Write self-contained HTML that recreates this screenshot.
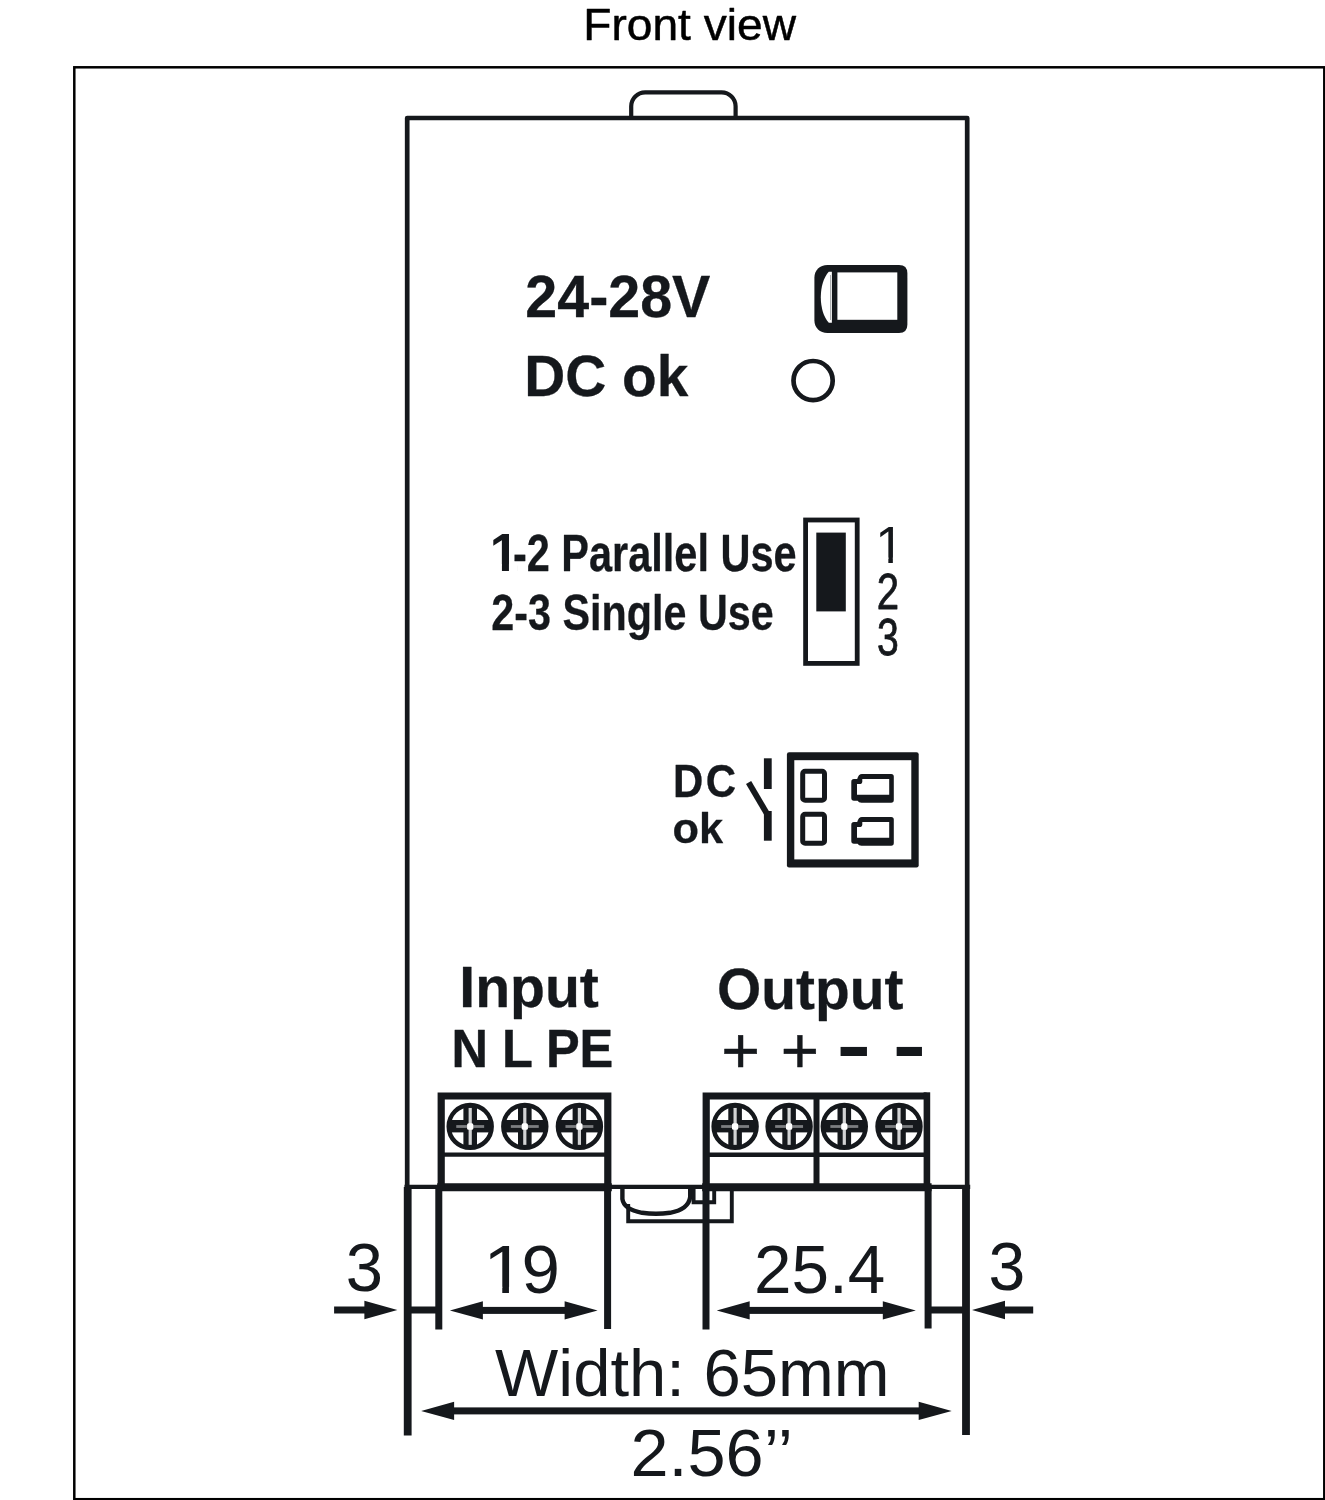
<!DOCTYPE html>
<html lang="en">
<head>
<meta charset="utf-8">
<title>Front view</title>
<style>
html,body{margin:0;padding:0;background:#fff;}
body{width:1325px;height:1500px;overflow:hidden;}
svg{display:block;font-family:"Liberation Sans",sans-serif;will-change:transform;}
</style>
</head>
<body>
<svg width="1325" height="1500" viewBox="0 0 1325 1500">
<rect x="0" y="0" width="1325" height="1500" fill="#fff"/>

<!-- title + frame -->
<text fill="#000" xml:space="preserve"><tspan x="583.28" y="39.98" font-size="44.51" font-weight="400" textLength="212.69" lengthAdjust="spacingAndGlyphs" stroke="#000" stroke-width="0.5" stroke-linejoin="round">Front view</tspan></text>
<rect x="74.3" y="67.3" width="1250" height="1431.9" fill="none" stroke="#000" stroke-width="2.5"/>
<defs><filter id="soft" x="0" y="0" width="1325" height="1500" filterUnits="userSpaceOnUse" color-interpolation-filters="sRGB"><feGaussianBlur stdDeviation="0.55"/></filter></defs>
<g filter="url(#soft)">
<!-- housing outline -->
<g fill="none" stroke="#15181c">
<path d="M 407.2 1187 V 118 H 967.2 V 1187" stroke-width="4.7" stroke-linejoin="round"/>
<path d="M 631.2 118 V 106.3 A 14 14 0 0 1 645.2 92.3 H 721.6 A 14 14 0 0 1 735.6 106.3 V 118" stroke-width="4.2"/>
<path d="M 404.5 1186.8 H 970.2" stroke-width="4.2"/>
<path d="M 437.2 1187.2 H 611.8 M 702.2 1187.2 H 931.6" stroke-width="8"/>
<path d="M 407.7 1187 V 1435.4 M 966 1187 V 1435" stroke-width="7.8"/>
<path d="M 438.8 1187 V 1329.4 M 607.6 1187 V 1329 M 706 1187 V 1329.4 M 928.1 1187 V 1328.4" stroke-width="7"/>
</g>
<!-- potentiometer -->
<path d="M 827.5 265 H 899 Q 907.4 265 907.4 273.4 V 324.6 Q 907.4 333 899 333 H 827.5 C 819.8 333 814.4 327.6 814.4 320.5 V 277.5 C 814.4 270.4 819.8 265 827.5 265 Z" fill="#15181c"/>
<rect x="837.4" y="272.4" width="59.9" height="47.4" fill="#fff"/>
<path d="M 831.9 271.8 V 322.8 H 828.8 C 823.6 317.2 820.8 307.5 820.8 297.3 C 820.8 287.1 823.6 277.4 828.8 271.8 Z" fill="#fff"/>
<path d="M 830.5 275 V 320" stroke="#a5a7a9" stroke-width="0.9" fill="none"/>
<!-- LED -->
<circle cx="813.1" cy="380.6" r="19.6" fill="none" stroke="#15181c" stroke-width="4.7"/>
<!-- labels -->
<text fill="#15181c" xml:space="preserve"><tspan x="525.30" y="317.43" font-size="59.03" font-weight="700" textLength="185.10" lengthAdjust="spacingAndGlyphs" stroke="#15181c" stroke-width="0.3" stroke-linejoin="round">24-28V</tspan></text>
<text fill="#15181c" xml:space="preserve"><tspan x="524.30" y="395.50" font-size="57.34" font-weight="700" textLength="163.95" lengthAdjust="spacingAndGlyphs" stroke="#15181c" stroke-width="0.3" stroke-linejoin="round">DC ok</tspan></text>
<text fill="#15181c" xml:space="preserve"><tspan x="489.75" y="570.70" font-size="53.34" font-weight="700" textLength="28.89" lengthAdjust="spacingAndGlyphs">1</tspan><tspan x="512.90" y="570.68" font-size="51.08" font-weight="700" textLength="283.65" lengthAdjust="spacingAndGlyphs" stroke="#15181c" stroke-width="0.3" stroke-linejoin="round">-2 Parallel Use</tspan></text><rect x="492.39" y="564.16" width="9.54" height="7.54" fill="#fff"/><rect x="508.95" y="564.16" width="8.88" height="7.54" fill="#fff"/>
<text fill="#15181c" xml:space="preserve"><tspan x="491.27" y="629.70" font-size="50.54" font-weight="700" textLength="282.43" lengthAdjust="spacingAndGlyphs" stroke="#15181c" stroke-width="0.3" stroke-linejoin="round">2-3 Single Use</tspan></text>
<text fill="#15181c" xml:space="preserve"><tspan x="875.19" y="562.50" font-size="52.62" font-weight="400" textLength="28.99" lengthAdjust="spacingAndGlyphs">1</tspan></text><rect x="878.52" y="557.47" width="9.82" height="6.03" fill="#fff"/><rect x="892.85" y="557.47" width="9.42" height="6.03" fill="#fff"/>
<text fill="#15181c" xml:space="preserve"><tspan x="876.75" y="608.52" font-size="49.66" font-weight="400" textLength="22.34" lengthAdjust="spacingAndGlyphs" stroke="#15181c" stroke-width="0.8" stroke-linejoin="round">2</tspan></text>
<text fill="#15181c" xml:space="preserve"><tspan x="877.12" y="655.05" font-size="51.39" font-weight="400" textLength="21.79" lengthAdjust="spacingAndGlyphs" stroke="#15181c" stroke-width="0.8" stroke-linejoin="round">3</tspan></text>
<!-- slide switch -->
<rect x="805.6" y="520" width="51.6" height="143.4" fill="#fff" stroke="#15181c" stroke-width="4.8"/>
<rect x="816.3" y="532.6" width="29.5" height="78.8" fill="#15181c"/>
<!-- DC ok relay contact -->
<text fill="#15181c" xml:space="preserve"><tspan x="673.03" y="797.32" font-size="45.49" font-weight="700" textLength="65.26" lengthAdjust="spacingAndGlyphs" letter-spacing="2.5" stroke="#15181c" stroke-width="0.3" stroke-linejoin="round">DC</tspan></text>
<text fill="#15181c" xml:space="preserve"><tspan x="672.53" y="843.27" font-size="43.08" font-weight="700" textLength="50.59" lengthAdjust="spacingAndGlyphs" stroke="#15181c" stroke-width="0.3" stroke-linejoin="round">ok</tspan></text>
<g fill="none" stroke="#15181c" stroke-width="7.8">
<path d="M 767.8 758.3 V 789"/>
<path d="M 767.8 811 V 840.7"/>
<path d="M 748.6 782.6 L 768.6 816.5" stroke-width="6"/>
</g>
<rect x="786.9" y="752.3" width="131.8" height="115.1" rx="2.2" fill="#15181c"/>
<rect x="794.3" y="760.2" width="117" height="99.2" fill="#fff"/>
<rect x="802.70" y="771.30" width="21.80" height="29.00" rx="2.4" fill="#fff" stroke="#15181c" stroke-width="5.0"/>
<rect x="802.70" y="814.30" width="21.80" height="29.00" rx="2.4" fill="#fff" stroke="#15181c" stroke-width="5.0"/>
<path d="M 862 773.9 H 891.2 Q 893.8 773.9 893.8 776.50 V 800.10 Q 893.8 802.70 891.2 802.70 H 861.5 Q 858.6 802.70 857.6 800.80 H 854 Q 851.3 800.80 851.3 798.10 V 781.90 Q 851.3 779.10 854 779.10 H 857.2 Q 858.4 773.9 862 773.9 Z" fill="#15181c"/><path d="M 862.3 779.00 H 889.2 V 794.80 H 857 V 784.10 H 860.6 Q 862.3 783.50 862.3 781.70 Z" fill="#fff"/>
<path d="M 862 816.9 H 891.2 Q 893.8 816.9 893.8 819.50 V 843.10 Q 893.8 845.70 891.2 845.70 H 861.5 Q 858.6 845.70 857.6 843.80 H 854 Q 851.3 843.80 851.3 841.10 V 824.90 Q 851.3 822.10 854 822.10 H 857.2 Q 858.4 816.9 862 816.9 Z" fill="#15181c"/><path d="M 862.3 822.00 H 889.2 V 837.80 H 857 V 827.10 H 860.6 Q 862.3 826.50 862.3 824.70 Z" fill="#fff"/>
<!-- Input / Output -->
<text fill="#15181c" xml:space="preserve"><tspan x="459.30" y="1007.25" font-size="57.72" font-weight="700" textLength="139.60" lengthAdjust="spacingAndGlyphs" stroke="#15181c" stroke-width="0.3" stroke-linejoin="round">Input</tspan></text>
<text fill="#15181c" xml:space="preserve"><tspan x="451.38" y="1067.45" font-size="53.19" font-weight="700" textLength="161.90" lengthAdjust="spacingAndGlyphs" stroke="#15181c" stroke-width="0.4" stroke-linejoin="round">N L PE</tspan></text>
<text fill="#15181c" xml:space="preserve"><tspan x="717.12" y="1009.33" font-size="57.73" font-weight="700" textLength="186.32" lengthAdjust="spacingAndGlyphs" stroke="#15181c" stroke-width="0.3" stroke-linejoin="round">Output</tspan></text>
<text fill="#15181c" xml:space="preserve"><tspan x="721.27" y="1073.20" font-size="65.21" font-weight="400" textLength="38.74" lengthAdjust="spacingAndGlyphs" stroke="#15181c" stroke-width="0.5" stroke-linejoin="round">+</tspan> <tspan x="780.70" y="1073.20" font-size="65.21" font-weight="400" textLength="38.26" lengthAdjust="spacingAndGlyphs" stroke="#15181c" stroke-width="0.5" stroke-linejoin="round">+</tspan> <tspan x="836.55" y="1071.28" font-size="75.09" font-weight="700" textLength="34.64" lengthAdjust="spacingAndGlyphs">-</tspan> <tspan x="892.73" y="1071.28" font-size="75.09" font-weight="700" textLength="33.22" lengthAdjust="spacingAndGlyphs">-</tspan></text>
<!-- terminal blocks -->
<g fill="none" stroke="#15181c">
<path d="M 441.2 1187 V 1096 H 607.8 V 1187" stroke-width="7.2"/>
<path d="M 441 1154.6 H 608" stroke-width="4.4"/>
<path d="M 706.2 1187 V 1096 H 926.6" stroke-width="7.2"/>
<path d="M 926.9 1092.3 V 1187" stroke-width="6.6"/>
<path d="M 706 1154.7 H 927" stroke-width="4.4"/>
<path d="M 816.5 1096 V 1187" stroke-width="6"/>
</g>
<g transform="translate(470.2 1126.4)"><circle r="21.45" fill="#fff" stroke="#15181c" stroke-width="4.5"/><rect x="-6.80" y="-21.45" width="13.6" height="42.90" fill="#15181c"/><rect x="-20.45" y="-6.40" width="40.90" height="12.40" fill="#15181c"/><rect x="-1.6" y="-18.45" width="3.2" height="36.90" fill="#d2d3d4"/><rect x="-13.95" y="-1.3" width="27.90" height="2.8" fill="#7c7e81"/><rect x="-3.1" y="-3.1" width="6.2" height="6.4" rx="1.5" fill="#fff"/></g>
<g transform="translate(524.8 1126.4)"><circle r="21.45" fill="#fff" stroke="#15181c" stroke-width="4.5"/><rect x="-6.80" y="-21.45" width="13.6" height="42.90" fill="#15181c"/><rect x="-20.45" y="-6.40" width="40.90" height="12.40" fill="#15181c"/><rect x="-1.6" y="-18.45" width="3.2" height="36.90" fill="#d2d3d4"/><rect x="-13.95" y="-1.3" width="27.90" height="2.8" fill="#7c7e81"/><rect x="-3.1" y="-3.1" width="6.2" height="6.4" rx="1.5" fill="#fff"/></g>
<g transform="translate(579.4 1126.4)"><circle r="21.45" fill="#fff" stroke="#15181c" stroke-width="4.5"/><rect x="-6.80" y="-21.45" width="13.6" height="42.90" fill="#15181c"/><rect x="-20.45" y="-6.40" width="40.90" height="12.40" fill="#15181c"/><rect x="-1.6" y="-18.45" width="3.2" height="36.90" fill="#d2d3d4"/><rect x="-13.95" y="-1.3" width="27.90" height="2.8" fill="#7c7e81"/><rect x="-3.1" y="-3.1" width="6.2" height="6.4" rx="1.5" fill="#fff"/></g>
<g transform="translate(735.1 1126.4)"><circle r="21.45" fill="#fff" stroke="#15181c" stroke-width="4.5"/><rect x="-6.80" y="-21.45" width="13.6" height="42.90" fill="#15181c"/><rect x="-20.45" y="-6.40" width="40.90" height="12.40" fill="#15181c"/><rect x="-1.6" y="-18.45" width="3.2" height="36.90" fill="#d2d3d4"/><rect x="-13.95" y="-1.3" width="27.90" height="2.8" fill="#7c7e81"/><rect x="-3.1" y="-3.1" width="6.2" height="6.4" rx="1.5" fill="#fff"/></g>
<g transform="translate(789.1 1126.4)"><circle r="21.45" fill="#fff" stroke="#15181c" stroke-width="4.5"/><rect x="-6.80" y="-21.45" width="13.6" height="42.90" fill="#15181c"/><rect x="-20.45" y="-6.40" width="40.90" height="12.40" fill="#15181c"/><rect x="-1.6" y="-18.45" width="3.2" height="36.90" fill="#d2d3d4"/><rect x="-13.95" y="-1.3" width="27.90" height="2.8" fill="#7c7e81"/><rect x="-3.1" y="-3.1" width="6.2" height="6.4" rx="1.5" fill="#fff"/></g>
<g transform="translate(844.3 1126.4)"><circle r="21.45" fill="#fff" stroke="#15181c" stroke-width="4.5"/><rect x="-6.80" y="-21.45" width="13.6" height="42.90" fill="#15181c"/><rect x="-20.45" y="-6.40" width="40.90" height="12.40" fill="#15181c"/><rect x="-1.6" y="-18.45" width="3.2" height="36.90" fill="#d2d3d4"/><rect x="-13.95" y="-1.3" width="27.90" height="2.8" fill="#7c7e81"/><rect x="-3.1" y="-3.1" width="6.2" height="6.4" rx="1.5" fill="#fff"/></g>
<g transform="translate(899.0 1126.4)"><circle r="21.45" fill="#fff" stroke="#15181c" stroke-width="4.5"/><rect x="-6.80" y="-21.45" width="13.6" height="42.90" fill="#15181c"/><rect x="-20.45" y="-6.40" width="40.90" height="12.40" fill="#15181c"/><rect x="-1.6" y="-18.45" width="3.2" height="36.90" fill="#d2d3d4"/><rect x="-13.95" y="-1.3" width="27.90" height="2.8" fill="#7c7e81"/><rect x="-3.1" y="-3.1" width="6.2" height="6.4" rx="1.5" fill="#fff"/></g>
<!-- DIN rail latch -->
<g fill="none" stroke="#15181c" stroke-width="3.9">
<path d="M 622.4 1189 V 1199 C 623.4 1206 630 1210.6 642 1212.8 Q 656 1214.6 670 1212.8 C 682 1210.6 689 1205.6 690.2 1197 V 1189" stroke-width="4.4"/>
<path d="M 628.2 1204 V 1221.3 H 731.8 V 1189"/>
<path d="M 693.6 1189 V 1202.2 H 714.2 V 1189"/>
</g>
<!-- dimensions -->
<g fill="#15181c" stroke="none">
<rect x="334.10" y="1306.50" width="33.30" height="7.0"/>
<path d="M 397.4 1310 L 364.4 1300.8 L 364.4 1319.2 Z"/>
<rect x="407.00" y="1306.50" width="32.00" height="7.0"/>
<rect x="479.90" y="1306.90" width="87.70" height="7.0"/>
<path d="M 449.9 1310.4 L 482.9 1301.2 L 482.9 1319.6000000000001 Z"/>
<path d="M 597.6 1310.4 L 564.6 1301.2 L 564.6 1319.6000000000001 Z"/>
<rect x="746.70" y="1306.90" width="139.10" height="7.0"/>
<path d="M 716.7 1310.4 L 749.7 1301.2 L 749.7 1319.6000000000001 Z"/>
<path d="M 915.8 1310.4 L 882.8 1301.2 L 882.8 1319.6000000000001 Z"/>
<rect x="928.00" y="1306.50" width="38.00" height="7.0"/>
<rect x="1002.00" y="1306.50" width="31.20" height="7.0"/>
<path d="M 972 1310 L 1005 1300.8 L 1005 1319.2 Z"/>
<rect x="451.10" y="1407.40" width="470.60" height="7.0"/>
<path d="M 421.1 1410.9 L 454.1 1401.7 L 454.1 1420.1000000000001 Z"/>
<path d="M 951.7 1410.9 L 918.7 1401.7 L 918.7 1420.1000000000001 Z"/>
</g>
<text fill="#15181c" xml:space="preserve"><tspan x="345.77" y="1290.65" font-size="68.43" font-weight="400" textLength="37.24" lengthAdjust="spacingAndGlyphs">3</tspan></text>
<text fill="#15181c" xml:space="preserve"><tspan x="482.92" y="1293.00" font-size="68.32" font-weight="400" textLength="42.68" lengthAdjust="spacingAndGlyphs">1</tspan><tspan x="521.52" y="1293.48" font-size="68.43" font-weight="400" textLength="38.43" lengthAdjust="spacingAndGlyphs">9</tspan></text><rect x="487.83" y="1286.80" width="14.44" height="7.20" fill="#fff"/><rect x="508.95" y="1286.80" width="13.84" height="7.20" fill="#fff"/>
<text fill="#15181c" xml:space="preserve"><tspan x="753.97" y="1293.45" font-size="67.73" font-weight="400" textLength="131.24" lengthAdjust="spacingAndGlyphs">25.4</tspan></text>
<text fill="#15181c" xml:space="preserve"><tspan x="988.47" y="1290.33" font-size="67.73" font-weight="400" textLength="36.74" lengthAdjust="spacingAndGlyphs">3</tspan></text>
<text fill="#15181c" xml:space="preserve"><tspan x="495.05" y="1396.43" font-size="66.35" font-weight="400" textLength="394.46" lengthAdjust="spacingAndGlyphs">Width: 65mm</tspan></text>
<text fill="#15181c" xml:space="preserve"><tspan x="630.42" y="1476.05" font-size="66.00" font-weight="400" textLength="162.48" lengthAdjust="spacingAndGlyphs">2.56’’</tspan></text>
</g>
</svg>
</body>
</html>
